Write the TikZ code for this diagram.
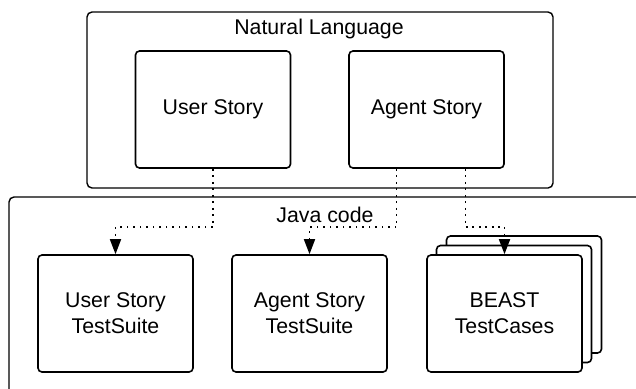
\documentclass[tikz,border=0pt]{standalone}
\usepackage{fontspec}
\setmainfont{Liberation Sans}
\usetikzlibrary{arrows.meta}
\tikzset{
  label text/.style={font=\fontsize{21.3}{26}\selectfont},
  story/.style={draw, line width=1.6pt, rounded corners=4pt, fill=white,
    minimum width=155pt, minimum height=117pt, align=center, label text},
  frame/.style={draw, line width=1.4pt, rounded corners=5pt},
  link/.style={line width=1.7pt, dash pattern=on 1.7pt off 4.8pt,
    -{Triangle[length=15pt,width=11pt]}}
}
\begin{document}
\begin{tikzpicture}[x=1pt, y=-1pt]
\useasboundingbox (0,0) rectangle (636,388);
% Natural language side
\draw[frame] (87,12) rectangle (553,188);
\node[label text] (nl) at (319,29) {Natural Language};
\node[story] (us) at (213,109.5) {User Story};
\node[story] (as) at (426.5,109.5) {Agent Story};
% Java code side
\draw[frame] (636,197) -- (9,197) -- (9,392);
\node[label text] (jc) at (325,215) {Java code};
\node[story] (ust) at (115.5,313.5) {User Story\\TestSuite};
\node[story] (ast) at (309.5,313.5) {Agent Story\\TestSuite};
\node[story] (bt3) at (524,294.5) {};
\node[story] (bt2) at (514,304) {};
\node[story] (bt1) at (504.5,313.5) {BEAST\\TestCases};
% Links
\draw[link] (us.south) -- (us.south |- 0,227) -| (ust.north);
\draw[link] ([xshift=-30pt]as.south) -- ([xshift=-30pt]as.south |- 0,227) -| (ast.north);
\draw[link] ([xshift=39pt]as.south) -- ([xshift=39pt]as.south |- 0,227) -| (bt1.north);
\end{tikzpicture}
\end{document}
